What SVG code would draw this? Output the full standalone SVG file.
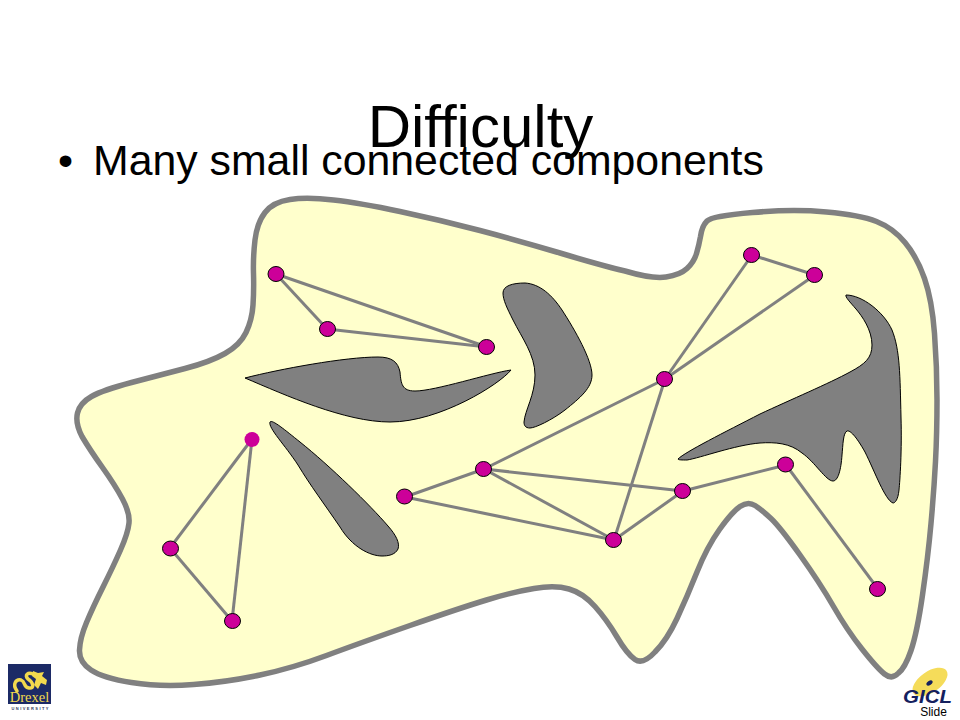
<svg xmlns="http://www.w3.org/2000/svg" width="960" height="720" viewBox="0 0 960 720">
<style>
.t{font-family:"Liberation Sans",Arial,sans-serif;fill:#000}
.ob{fill:#808080;stroke:#000;stroke-width:1}
.n{fill:#cc0099;stroke:#000;stroke-width:1}
.e{stroke:#808080;stroke-width:3;fill:none}
</style>
<rect width="960" height="720" fill="#fff"/>
<path id="region" d="M265 212.500Q273 202 290 199.500Q307 197 333.500 200Q360 203 400 211.500Q440 220 480 230.500Q520 241 560 253Q600 265 625 271Q652 279 666 277Q680 275 687 268.500Q694 262 696.500 253.500Q699 245 700.500 236.500Q702 226 707 221Q712 216 752.500 212.500Q793 209 826.500 212Q860 215 876.500 221.500Q893 228 905 242.500Q917 257 924.500 278.500Q932 300 934.500 333.500Q937 367 937 400Q937 433 935.500 461.500Q934 490 931 523.500Q928 557 922.500 595Q917 633 911 650.500Q905 668 898.500 673Q892 680 884.500 674Q877 668 862 649Q847 630 833.500 606.500Q820 583 800 555Q780 527 771 518.500Q762 510 755 505.500Q748 501 740 506.500Q732 512 719.500 529.500Q707 547 697 572Q687 597 677 618.500Q667 640 655 652Q643 665 635 659.500Q627 654 617 637Q607 620 595 606.500Q583 593 569 589Q555 585 534 588.500Q513 592 486.500 600Q460 608 410 625.500Q360 643 326.500 655.500Q293 668 260 675Q227 682 193.500 684.500Q160 687 131.500 682.500Q103 678 91 670Q79 662 79.500 650Q80 638 86.500 622.500Q93 607 103 587Q113 567 120.500 550Q128 533 129 523Q130 513 122.500 499Q115 485 102.500 467.500Q90 450 82 436.500Q75 423 77.500 413Q80 403 91.500 396.500Q103 390 131.500 382.500Q160 375 185 368.500Q210 362 225 353.500Q240 345 246 332.500Q252 320 253 305Q254 290 253.500 273.500Q253 257 255 240Q257 223 265 212.500Z" fill="#ffffcc" stroke="#808080" stroke-width="5.500"/>
<text class="t" x="480.500" y="147" font-size="60" text-anchor="middle">Difficulty</text>
<text class="t" x="58" y="175" font-size="43">•</text>
<text class="t" x="93" y="175" font-size="42.800">Many small connected components</text>
<path class="ob" d="M245 378C280 369 345 357 378 357C392 357 398 362 400 372C401 384 402 391 415 391C435 391 490 373 511 370C500 384 440 422 390 422C345 422 285 395 245 378Z"/>
<path class="ob" d="M270 422C272 419 285 430 300 442C330 466 370 505 388 526C396 535 400 543 398 549C395 555 388 556 382 556C370 556 352 547 340 527C325 505 310 485 298 465C285 445 268 428 270 422Z"/>
<path class="ob" d="M503 293C503 286 512 283 525 283C540 284 552 295 562 310C575 330 592 360 592 375C592 388 580 398 565 410C552 420 535 428 530 428C525 428 524 425 524 422C525 410 535 395 535 375C535 355 522 338 513 320C507 308 503 300 503 293Z"/>
<path class="ob" d="M846 295C862 295 884 312 892 330C900 350 900 375 901 417C902 450 900 480 899 490C898 500 895 503 893 503C885 500 875 472 865 452C856 436 850 430 847 431C843 433 843 445 842 455C841 470 838 481 833 481C826 481 815 462 802 453C790 443 775 442 760 443C735 445 700 458 687 460C682 460 678 460 678 459C685 452 725 432 760 414C790 400 830 383 850 372C865 364 872 358 872 345C872 330 862 316 856 309C850 302 845 297 846 295Z"/>
<g id="connectors">
<line class="e" x1="276" y1="274" x2="327" y2="329"/>
<line class="e" x1="276" y1="274" x2="487" y2="347"/>
<line class="e" x1="327" y1="329" x2="487" y2="347"/>
<line class="e" x1="252" y1="439" x2="170" y2="548"/>
<line class="e" x1="252" y1="439" x2="232" y2="621"/>
<line class="e" x1="170" y1="548" x2="232" y2="621"/>
<line class="e" x1="405" y1="497" x2="484" y2="469"/>
<line class="e" x1="405" y1="497" x2="614" y2="540"/>
<line class="e" x1="484" y1="469" x2="614" y2="540"/>
<line class="e" x1="484" y1="469" x2="683" y2="491"/>
<line class="e" x1="484" y1="469" x2="665" y2="379"/>
<line class="e" x1="614" y1="540" x2="665" y2="379"/>
<line class="e" x1="614" y1="540" x2="683" y2="491"/>
<line class="e" x1="683" y1="491" x2="786" y2="465"/>
<line class="e" x1="786" y1="465" x2="878" y2="589"/>
<line class="e" x1="665" y1="379" x2="752" y2="255"/>
<line class="e" x1="665" y1="379" x2="815" y2="275"/>
<line class="e" x1="752" y1="255" x2="815" y2="275"/>
</g>
<g id="nodes">
<ellipse id="n1" class="n" cx="276" cy="274" rx="8" ry="7.500"/>
<ellipse id="n2" class="n" cx="327.500" cy="329" rx="8" ry="7.500"/>
<ellipse id="n3" class="n" cx="486.500" cy="347" rx="8" ry="7.500"/>
<ellipse id="n4" class="n" cx="252" cy="439.500" rx="7.500" ry="7.500" stroke="none" style="stroke:none"/>
<ellipse id="n5" class="n" cx="170.500" cy="548.500" rx="8" ry="7.500"/>
<ellipse id="n6" class="n" cx="232.500" cy="621" rx="8" ry="7.500"/>
<ellipse id="n7" class="n" cx="404.500" cy="496.500" rx="8" ry="7.500"/>
<ellipse id="n8" class="n" cx="483.500" cy="469" rx="8" ry="7.500"/>
<ellipse id="n9" class="n" cx="613.500" cy="540" rx="8" ry="7.500"/>
<ellipse id="n10" class="n" cx="682.500" cy="491" rx="8" ry="7.500"/>
<ellipse id="n11" class="n" cx="785.500" cy="464.500" rx="8" ry="7.500"/>
<ellipse id="n12" class="n" cx="877.500" cy="589" rx="8" ry="7.500"/>
<ellipse id="n13" class="n" cx="664.500" cy="379" rx="8" ry="7.500"/>
<ellipse id="n14" class="n" cx="751.500" cy="255" rx="8" ry="7.500"/>
<ellipse id="n15" class="n" cx="814.500" cy="275" rx="8" ry="7.500"/>
</g>
<g id="drexel-logo">
<rect x="8" y="664" width="43" height="40" fill="#1c2a66"/>
<path d="M17 691C12 684 16 679 21 680C26 682 23 687 29 688C35 689 33 682 28 679C24 675 28 672 33 674" fill="none" stroke="#f2d94e" stroke-width="3.500" stroke-linecap="round"/>
<path d="M33 671L38 673L44 672L42 676L47 680L46 685L41 683L38 689L34 685L36 679L32 676Z" fill="#f2d94e"/>
<text x="29.500" y="702" font-size="14.500" text-anchor="middle" fill="#f2d94e" font-family="Liberation Serif, serif">Drexel</text>
<text x="30" y="710" font-size="4" font-weight="bold" fill="#333a5c" font-family="Liberation Sans, sans-serif" text-anchor="middle" textLength="37" lengthAdjust="spacing">UNIVERSITY</text>
</g>
<g id="gicl-logo">
<ellipse cx="930" cy="682" rx="20" ry="10.500" fill="#f5dc5a" transform="rotate(-35 930 682)"/>
<ellipse cx="929.500" cy="683" rx="3.500" ry="2" fill="#14205e" transform="rotate(-35 929.500 683)"/>
<text x="903" y="703" font-size="19" font-weight="bold" font-style="italic" fill="#14205e" font-family="Liberation Sans, sans-serif" textLength="49" lengthAdjust="spacingAndGlyphs">GICL</text>
</g>
<text class="t" x="933.500" y="716" font-size="12" text-anchor="middle">Slide</text>
</svg>
